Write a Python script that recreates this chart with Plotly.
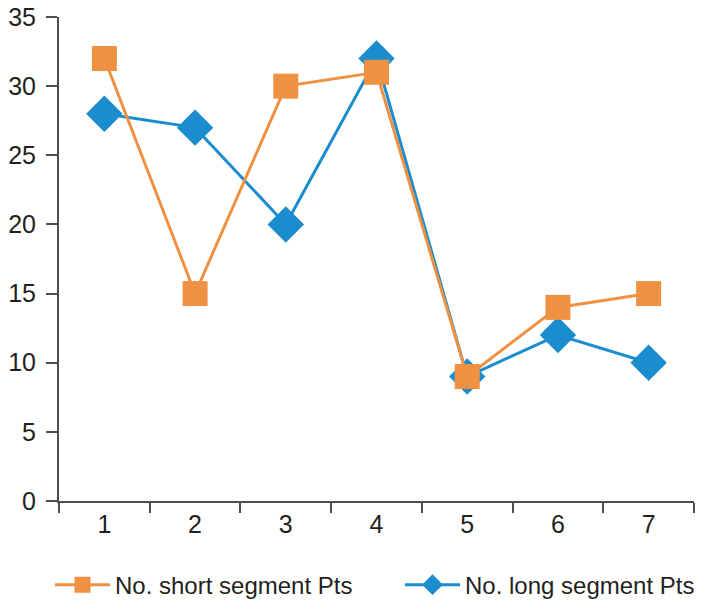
import plotly.graph_objects as go

categories = ["1", "2", "3", "4", "5", "6", "7"]
short_pts = [32, 15, 30, 31, 9, 14, 15]
long_pts = [28, 27, 20, 32, 9, 12, 10]
y_ticks = [0, 5, 10, 15, 20, 25, 30, 35]

orange = "#EF9143"
blue = "#1B8DCF"

fig = go.Figure()
fig.add_trace(go.Scatter(
    x=categories, y=long_pts, name="No. long segment Pts", mode="lines+markers",
    line=dict(color=blue, width=3),
    marker=dict(symbol="diamond", size=28, color=blue),
    legend="legend2",
))
fig.add_trace(go.Scatter(
    x=categories, y=short_pts, name="No. short segment Pts", mode="lines+markers",
    line=dict(color=orange, width=3),
    marker=dict(symbol="square", size=25, color=orange),
    legend="legend",
))

axis_color = "#4D4D4D"
legend_common = dict(orientation="h", xref="container", yref="container",
                     xanchor="left", y=0.044, yanchor="middle",
                     font=dict(size=24), itemwidth=55, bgcolor="rgba(0,0,0,0)")
fig.update_layout(
    width=710, height=612,
    margin=dict(l=59, r=16, t=17, b=111, autoexpand=False),
    paper_bgcolor="white", plot_bgcolor="white",
    font=dict(family="Liberation Sans, Arial, sans-serif", size=24, color="#231F20"),
    showlegend=True,
    legend=dict(x=50 / 710, **legend_common),
    legend2=dict(x=400 / 710, **legend_common),
    xaxis=dict(type="category", range=[-0.5, 6.5], showline=True, linecolor=axis_color,
               linewidth=2, ticks="outside", tickson="boundaries", ticklen=10,
               tickcolor=axis_color, tickwidth=2, showgrid=False, zeroline=False,
               tickfont=dict(size=25), automargin=False),
    yaxis=dict(range=[0, 35], tickvals=y_ticks, showline=True, linecolor=axis_color,
               linewidth=2, ticks="outside", ticklen=11, tickcolor=axis_color, tickwidth=2,
               showgrid=False, zeroline=False, tickfont=dict(size=25), automargin=False,
               ticklabelstandoff=5, ticklabeloverflow="allow"),
)

fig.write_html("out.html", config={"displayModeBar": False},
               post_script="document.body.style.margin='0';")
